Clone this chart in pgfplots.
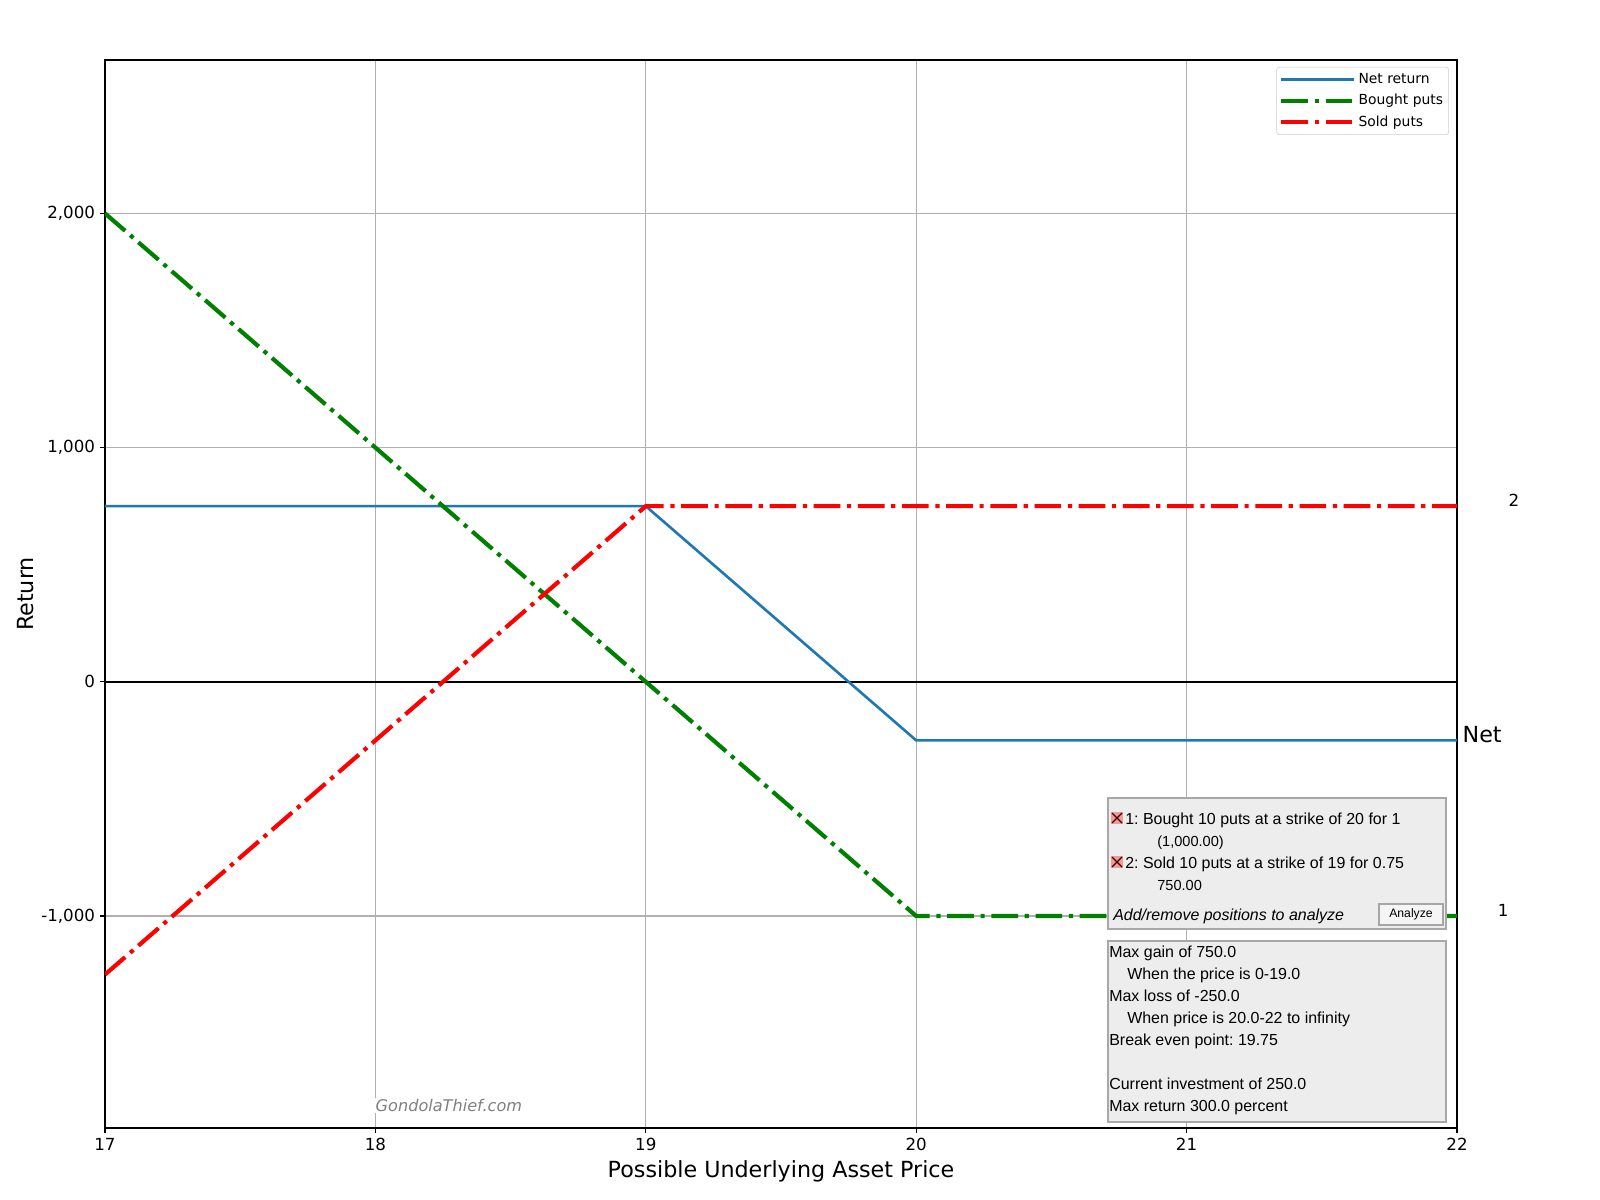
\documentclass[border=0pt]{standalone}
\usepackage{fontspec}
\setmainfont{DejaVu Sans}
\newfontfamily\arial{Liberation Sans}
\usepackage{pgfplots}
\pgfplotsset{compat=1.18}
\frenchspacing

\definecolor{netblue}{RGB}{31,119,180}
\definecolor{putgreen}{RGB}{0,128,0}
\definecolor{putred}{RGB}{255,0,0}
\definecolor{gridgray}{RGB}{176,176,176}
\definecolor{panel}{RGB}{237,237,237}
\definecolor{panelline}{RGB}{168,168,168}
\definecolor{xpink}{RGB}{240,155,155}

\tikzset{dashdot3/.style={line width=3pt, dash pattern=on 19.2pt off 4.8pt on 3pt off 4.8pt}}

\begin{document}
\begin{tikzpicture}
% page = 1600x1200 px at 0.72pt per px, origin at the axis' lower left corner
\begin{scope}[x=0.72pt,y=-0.72pt,shift={(-75.6pt,812.16pt)}]
\path[use as bounding box] (0,0) rectangle (1600,1200);
\end{scope}

\begin{axis}[
  at={(0,0)}, anchor=south west,
  scale only axis,
  width=973.44pt, height=768.96pt,
  xmin=17, xmax=22,
  ymin=-1905, ymax=2655,
  clip mode=individual,
  xtick={17,18,19,20,21,22},
  xticklabels={17,18,19,20,21,22},
  ytick={-1000,0,1000,2000},
  yticklabels={{-1,000},0,{1,000},{2,000}},
  xtick pos=bottom, ytick pos=left,
  tick align=outside,
  major tick length=3.5pt,
  every tick/.style={black, line width=0.8pt},
  tick label style={font=\fontsize{12}{14}\selectfont, inner sep=3.5pt},
  axis line style={line width=1pt},
  grid=major,
  major grid style={gridgray, line width=0.8pt},
  xlabel={Possible Underlying Asset Price},
  ylabel={Return},
  label style={font=\fontsize{16}{19}\selectfont},
  xlabel style={at={(axis description cs:0.5,-0.041)}, anchor=center},
  ylabel style={at={(axis description cs:-0.059,0.5)}, anchor=center},
  legend style={at={(1,1)}, anchor=north east, xshift=-5.8pt, yshift=-5pt,
    font=\fontsize{10}{12}\selectfont, draw=black!20, rounded corners=2pt,
    fill=white, inner xsep=2pt, inner ysep=2.5pt, row sep=2.3pt},
  legend cell align=left,
  legend image code/.code={\draw[#1] (0pt,0pt) -- (52pt,0pt);},
]

\addplot[black, line width=1.5pt, forget plot] coordinates {(17,0) (22,0)};

\addplot[netblue, line width=1.9pt] coordinates {(17,750) (19,750) (20,-250) (22,-250)};
\addlegendentry{Net return}

\addplot[putgreen, dashdot3] coordinates {(17,2000) (20,-1000) (22,-1000)};
\addlegendentry{Bought puts}

\addplot[putred, dashdot3] coordinates {(17,-1250) (19,750) (22,750)};
\addlegendentry{Sold puts}

\node[anchor=west, inner sep=0pt, font=\fontsize{16}{19}\selectfont] at (axis cs:22.02,-224) {Net};
\node[anchor=west, inner sep=0pt, font=\fontsize{12}{14}\selectfont] at (axis cs:22.19,775) {2};
\node[anchor=west, inner sep=0pt, font=\fontsize{12}{14}\selectfont] at (axis cs:22.15,-978) {1};
\node[anchor=west, inner sep=1pt, fill=white, text=black!50, font=\fontsize{11.6}{13}\selectfont\itshape] at (axis cs:17.995,-1810) {GondolaThief.com};
\end{axis}

% position panels drawn over the plot, in page pixels
\begin{scope}[x=0.72pt,y=-0.72pt,shift={(-75.6pt,812.16pt)}, every node/.style={inner sep=0pt, anchor=base west}]
\filldraw[fill=panel, draw=panelline, line width=0.8pt] (1108,798) rectangle (1446,929);
\filldraw[fill=panel, draw=panelline, line width=0.8pt] (1108,941) rectangle (1446,1122);
% delete icons
\foreach \yy in {812,856} {
  \fill[xpink] (1111,\yy) rectangle (1123,\yy+12);
  \draw[black!75!red, line width=0.8pt] (1112,\yy+1) -- (1122,\yy+11) (1122,\yy+1) -- (1112,\yy+11);
}
\begin{scope}[font=\arial\fontsize{11.5}{13}\selectfont]
\node at (1125,824.5) {1: Bought 10 puts at a strike of 20 for 1};
\node[font=\arial\fontsize{10.5}{12}\selectfont] at (1157,847) {(1,000.00)};
\node at (1125,868.5) {2: Sold 10 puts at a strike of 19 for 0.75};
\node[font=\arial\fontsize{10.5}{12}\selectfont] at (1157,891) {750.00};
\node[font=\arial\fontsize{11.5}{13}\selectfont\itshape] at (1113,920.5) {Add/remove positions to analyze};
\filldraw[fill=black!4, draw=black!35, line width=0.8pt] (1379,904) rectangle (1443,925);
\node[anchor=center, font=\arial\fontsize{8.8}{10}\selectfont] at (1411,914.5) {Analyze};
\node at (1109,957.5) {Max gain of 750.0};
\node at (1127,979.5) {When the price is 0-19.0};
\node at (1109,1001.5) {Max loss of -250.0};
\node at (1127,1023.5) {When price is 20.0-22 to infinity};
\node at (1109,1045.5) {Break even point: 19.75};
\node at (1109,1089.5) {Current investment of 250.0};
\node at (1109,1111.5) {Max return 300.0 percent};
\end{scope}
\end{scope}
\end{tikzpicture}
\end{document}
